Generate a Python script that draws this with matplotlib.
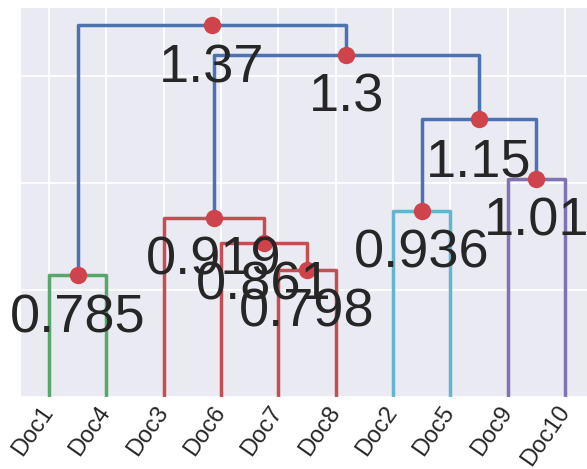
#dendrogram of the 10 docs, drawn by hand (no scipy here)
import numpy as np
import matplotlib
matplotlib.use('Agg')
import matplotlib.pyplot as plt
import seaborn as sns

sns.set_style('darkgrid')
plt.rcParams['font.family'] = ['Liberation Sans', 'DejaVu Sans']

# leaf order as it comes out of the dendrogram
labels = ['Doc1', 'Doc4', 'Doc3', 'Doc6', 'Doc7', 'Doc8', 'Doc2', 'Doc5', 'Doc9', 'Doc10']

# linkage: ids < 10 are leaves (position in leaf order), id 10+k is merge k
merge_left = [0, 4, 3, 2, 6, 8, 14, 13, 10]
merge_right = [1, 5, 11, 12, 7, 9, 15, 16, 17]
merge_dist = [0.785, 0.798, 0.861, 0.919, 0.936, 1.01, 1.15, 1.3, 1.37]
merge_color = ['g', 'r', 'r', 'r', 'c', 'm', 'b', 'b', 'b']

colors = {'b': '#4C72B0', 'g': '#55A868', 'r': '#C44E52',
          'c': '#64B5CD', 'm': '#8172B2'}

n = len(labels)
node_x = [5 + 10 * i for i in range(n)]
node_y = [0.0] * n

fig = plt.figure(figsize=(5.87, 4.69), dpi=100)
ax = fig.add_axes([20.3 / 587, 72 / 469, 573.3 / 587, 390 / 469])

for l, r, d, c in zip(merge_left, merge_right, merge_dist, merge_color):
    xl, xr = node_x[l], node_x[r]
    ax.plot([xl, xl, xr, xr], [node_y[l], d, d, node_y[r]],
            color=colors[c], lw=2.5, solid_capstyle='butt', zorder=2)
    node_x.append((xl + xr) / 2.0)
    node_y.append(d)

for x, y in zip(node_x[n:], node_y[n:]):
    ax.plot(x, y, 'o', color='#CF434C', ms=11.5, zorder=3)
    ax.annotate("%.3g" % y, (x, y), xytext=(0, -13), textcoords='offset points',
                va='top', ha='center', fontsize=39, color='#262626', zorder=4)

ax.set_xlim(0, 10 * n)
ax.set_ylim(0.5, 1.412)
ax.set_xticks(node_x[:n])
ax.set_xticklabels(labels, rotation=55, ha='right', va='center',
                   rotation_mode='anchor', fontsize=17)
ax.set_yticks([0.5, 0.75, 1.0, 1.25])
ax.tick_params(labelleft=False, length=0)
ax.tick_params(axis='x', pad=8)
ax.grid(True, color='white', lw=1.3)

plt.savefig('out.png', dpi=100)
